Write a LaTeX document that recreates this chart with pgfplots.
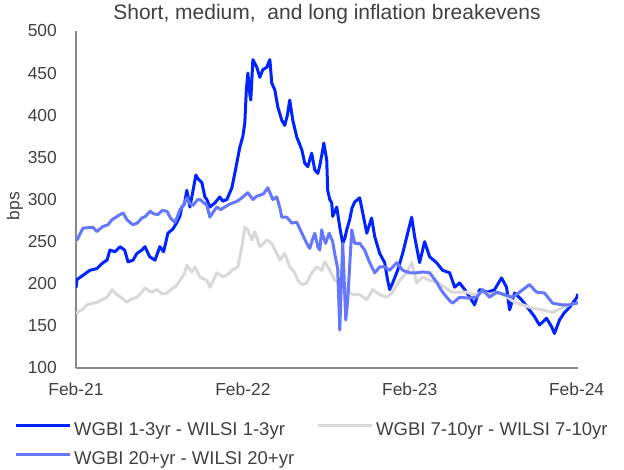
\documentclass[border=0pt]{standalone}
\usepackage{pgfplots}
\pgfplotsset{compat=1.18}
\usepackage{fontspec}
\setmainfont{Liberation Sans}
\definecolor{txt}{RGB}{64,64,64}
\definecolor{axcol}{RGB}{137,137,137}
\definecolor{sdark}{RGB}{0,36,255}
\definecolor{smid}{RGB}{102,119,255}
\definecolor{sgray}{RGB}{217,217,217}
\begin{document}
\begin{tikzpicture}
\useasboundingbox (-76pt,-101pt) rectangle (548pt,368pt);
\begin{axis}[
  at={(0pt,0pt)}, anchor=south west,
  scale only axis, width=502pt, height=337pt,
  xmin=0, xmax=36.1, ymin=100, ymax=500,
  axis lines*=left,
  axis line style={draw=axcol, line width=1.5pt, -},
  xtick={0,12,24,36},
  xticklabels={Feb-21,Feb-22,Feb-23,Feb-24},
  ytick={100,150,...,500},
  major tick length=0pt,
  tick label style={font=\fontsize{17.4}{20}\selectfont, text=txt},
  xticklabel style={anchor=north, inner sep=0pt, yshift=-15pt},
  yticklabel style={anchor=east, inner sep=0pt, xshift=-19pt},
  /pgf/number format/assume math mode=true,
  title={Short, medium,\ \ and long inflation breakevens},
  title style={at={(axis description cs:0.5,1)}, anchor=base, yshift=5pt, font=\fontsize{21}{24}\selectfont, text=txt},
  ylabel={bps},
  every axis y label/.style={at={(axis description cs:-0.122,0.48)}, rotate=90, anchor=center, font=\fontsize{17.4}{20}\selectfont, text=txt},
  legend columns=2,
  legend cell align=left,
  legend style={at={(axis description cs:-0.1235,-0.160)}, anchor=north west, draw=none, fill=none, inner sep=0pt,
    font=\fontsize{18.5}{21}\selectfont, text=txt,
    nodes={inner sep=0pt, text height=13pt, text depth=3.5pt},
    row sep=12.5pt,
    /tikz/every odd column/.append style={column sep=3pt},
    /tikz/every even column/.append style={column sep=22pt}},
  legend image code/.code={\draw[#1, line width=3pt] (0pt,4.8pt) -- (54pt,4.8pt);},
  line join=round,
]
\addplot[sdark, line width=3pt] coordinates {
(0,195) (0.07,205) (0.5,210) (1.0,216) (1.5,218) (1.94,225) (2.23,228) (2.44,240) (2.8,238) (3.16,244) (3.5,240) (3.74,226) (4.1,228) (4.38,236) (4.74,240) (4.96,244) (5.3,232) (5.68,228) (6.03,244) (6.3,238) (6.61,260) (6.97,265) (7.26,273) (7.47,280) (7.61,291) (7.8,295) (7.97,311) (8.19,291) (8.41,310) (8.62,329) (8.76,325) (9.05,320) (9.27,303) (9.41,300) (9.63,291) (9.99,296) (10.34,303) (10.56,298) (10.85,300) (11.21,314) (11.42,331) (11.78,362) (12.0,375) (12.14,391) (12.25,430) (12.36,450) (12.5,425) (12.57,418) (12.72,466) (13.0,457) (13.22,445) (13.43,454) (13.72,457) (13.94,466) (14.08,438) (14.30,430) (14.51,410) (14.80,394) (15.01,388) (15.2,400) (15.37,418) (15.59,394) (15.88,374) (16.24,359) (16.45,343) (16.67,339) (16.95,355) (17.17,335) (17.39,331) (17.53,340) (17.7,355) (17.82,367) (18.03,347) (18.10,311) (18.25,300) (18.39,296) (18.46,280) (18.75,291) (18.97,267) (19.18,248) (19.35,255) (19.47,264) (19.68,276) (19.85,290) (20.04,297) (20.40,302) (20.62,284) (20.91,260) (21.1,270) (21.26,278) (21.48,256) (21.84,236) (22.20,225) (22.4,205) (22.56,193) (22.77,201) (23.13,216) (23.49,236) (23.85,260) (24.14,279) (24.35,256) (24.71,225) (25.07,250) (25.43,232) (25.93,225) (26.36,216) (26.87,213) (27.23,196) (27.59,201) (28.09,190) (28.66,175) (29.02,193) (29.60,190) (30.10,193) (30.60,207) (30.96,196) (31.18,169) (31.54,189) (32.04,181) (32.47,172) (32.97,161) (33.33,151) (33.84,159) (34.20,149) (34.41,141) (34.77,157) (35.13,166) (35.49,172) (35.99,183) (36.1,188)
};
\addlegendentry{WGBI 1-3yr - WILSI 1-3yr}
\addplot[sgray, line width=3pt] coordinates {
(0,165) (0.5,170) (0.79,175) (1.51,178) (2.23,184) (2.59,193) (2.95,187) (3.3,183) (3.66,178) (4.0,182) (4.38,184) (4.74,190) (4.96,195) (5.4,190) (5.82,193) (6.2,188) (6.54,189) (6.97,195) (7.2,197) (7.47,204) (7.8,212) (7.97,222) (8.33,214) (8.55,220) (8.76,213) (8.91,208) (9.41,204) (9.63,196) (9.9,205) (10.13,213) (10.56,208) (11.0,212) (11.21,216) (11.64,220) (11.93,244) (12.14,267) (12.36,264) (12.64,252) (12.86,262) (13.22,244) (13.5,248) (13.72,252) (14.08,248) (14.44,236) (14.66,228) (15.01,236) (15.37,220) (15.73,213) (15.95,204) (16.24,199) (16.59,201) (16.95,213) (17.31,220) (17.67,216) (17.89,226) (18.25,216) (18.61,204) (18.97,201) (19.47,193) (19.90,187) (20.40,187) (20.91,181) (21.34,193) (21.84,187) (22.34,184) (22.77,190) (23.28,204) (23.78,213) (24.0,220) (24.14,225) (24.30,215) (24.50,201) (24.93,208) (25.43,204) (25.93,202) (26.51,196) (27.01,190) (27.59,190) (28.09,190) (28.66,187) (29.24,190) (29.89,187) (30.46,189) (31.03,184) (31.54,178) (32.11,175) (32.83,171) (33.55,169) (34.27,166) (34.91,171) (35.49,175) (36.06,177)
};
\addlegendentry{WGBI 7-10yr - WILSI 7-10yr}
\addplot[smid, line width=3pt] coordinates {
(0,254) (0.07,252) (0.5,266) (1.22,267) (1.5,262) (1.94,268) (2.3,270) (2.59,276) (3.16,282) (3.4,284) (3.66,276) (4.09,270) (4.4,272) (4.74,278) (5.0,280) (5.32,286) (5.6,283) (5.89,282) (6.2,287) (6.54,286) (6.8,278) (7.11,273) (7.3,280) (7.47,288) (7.7,292) (7.97,302) (8.2,295) (8.41,293) (8.76,300) (8.91,300) (9.2,296) (9.41,293) (9.63,279) (9.9,286) (10.13,291) (10.4,288) (10.70,291) (11.0,294) (11.28,296) (11.6,298) (11.93,302) (12.2,306) (12.36,308) (12.72,300) (13.0,304) (13.22,305) (13.5,307) (13.79,314) (14.0,306) (14.15,300) (14.44,303) (14.66,290) (14.80,279) (15.16,279) (15.52,272) (15.88,273) (16.24,260) (16.59,248) (16.81,242) (17.0,252) (17.17,260) (17.39,244) (17.53,240) (17.67,264) (17.8,255) (17.95,248) (18.2,260) (18.46,250) (18.6,236) (18.82,218) (18.97,145) (19.11,216) (19.18,248) (19.40,157) (19.54,181) (19.83,264) (20.04,248) (20.40,248) (20.76,240) (21.12,225) (21.48,213) (21.84,220) (22.20,220) (22.56,216) (23.06,225) (23.49,216) (23.99,213) (24.50,213) (24.93,214) (25.43,213) (25.8,205) (26.0,200) (26.36,190) (26.87,180) (27.08,177) (27.59,184) (28.16,183) (28.81,184) (29.24,193) (29.74,184) (30.24,190) (30.82,187) (31.39,184) (31.90,190) (32.61,199) (33.12,190) (33.69,189) (34.27,177) (34.91,175) (35.49,175) (35.99,177) (36.1,178)
};
\addlegendentry{WGBI 20+yr - WILSI 20+yr}
\end{axis}
\end{tikzpicture}
\end{document}
